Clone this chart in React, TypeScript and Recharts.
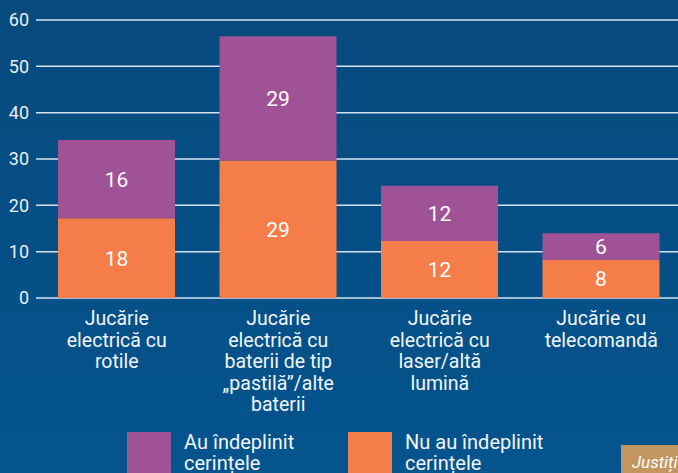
import React from 'react';
import { BarChart, Bar, XAxis, YAxis, CartesianGrid, LabelList } from 'recharts';

// category names, one entry per printed line
const categories: string[][] = [
    ['Jucărie', 'electrică cu', 'rotile'],
    ['Jucărie', 'electrică cu', 'baterii de tip', '„pastilă”/alte', 'baterii'],
    ['Jucărie', 'electrică cu', 'laser/altă', 'lumină'],
    ['Jucărie cu', 'telecomandă'],
];

// bar heights as drawn in the picture
const notCompliant = [17.2, 29.7, 12.3, 8.2];
const compliant = [16.9, 26.8, 11.9, 5.8];

// numbers printed on the bars
const notCompliantLabels = ['18', '29', '12', '8'];
const compliantLabels = ['16', '29', '12', '6'];

const yTicks = [0, 10, 20, 30, 40, 50, 60];

const legendNames = ['Au îndeplinit\ncerințele', 'Nu au îndeplinit\ncerințele'];

const PURPLE = '#9f5396';
const ORANGE = '#f47d4a';
const FONT = 'Roboto, sans-serif';

const data = categories.map((lines, i) => ({
    name: lines.join(' '),
    idx: i,
    nu: notCompliant[i],
    au: compliant[i],
    nuLabel: notCompliantLabels[i],
    auLabel: compliantLabels[i],
}));

const CategoryTick = (props: any) => {
    const { x, y, payload } = props;
    const lines = categories[payload.index] || [];
    return (
        <text x={x} y={y + 19} textAnchor="middle" fill="#f2f6fa" fontSize={19.5} fontFamily={FONT}>
            {lines.map((l, i) => (
                <tspan key={i} x={x} dy={i === 0 ? 0 : 21.5}>{l}</tspan>
            ))}
        </text>
    );
};

const App = () => {
    return (
        <div style={{
            position: 'absolute', left: 0, top: 0, width: 678, height: 473, overflow: 'hidden',
            background: 'linear-gradient(180deg, #074a7d 0%, #04548e 100%)', fontFamily: FONT,
        }}>
            <BarChart width={690} height={473} data={data} margin={{ top: 20, right: 8, left: 0, bottom: 0 }}>
                <CartesianGrid vertical={false} stroke="#d5e3ee" strokeWidth={1.5} />
                <XAxis
                    dataKey="name"
                    height={175}
                    axisLine={false}
                    tickLine={false}
                    interval={0}
                    tick={<CategoryTick />}
                />
                <YAxis
                    width={36}
                    domain={[0, 60]}
                    ticks={yTicks}
                    axisLine={false}
                    tickLine={false}
                    tickMargin={1}
                    tick={{ fill: '#e9eff6', fontSize: 18, fontFamily: FONT }}
                />
                <Bar dataKey="nu" stackId="a" fill={ORANGE} barSize={117} isAnimationActive={false}>
                    <LabelList dataKey="nuLabel" position="center" fill="#ffffff" fontSize={21} fontFamily={FONT} />
                </Bar>
                <Bar dataKey="au" stackId="a" fill={PURPLE} barSize={117} isAnimationActive={false}>
                    <LabelList dataKey="auLabel" position="center" fill="#ffffff" fontSize={21} fontFamily={FONT} />
                </Bar>
            </BarChart>

            {/* legend */}
            {[PURPLE, ORANGE].map((c, i) => (
                <div key={i} style={{ position: 'absolute', left: i === 0 ? 127 : 348, top: 432 }}>
                    <div style={{ position: 'absolute', left: 0, top: 0, width: 44, height: 50, background: c }} />
                    <div style={{
                        position: 'absolute', left: 57, top: 0, width: 200, color: '#f2f6fa',
                        fontSize: 20, lineHeight: '21px', whiteSpace: 'pre',
                    }}>{legendNames[i]}</div>
                </div>
            ))}

            <div style={{
                position: 'absolute', left: 621, top: 445, width: 80, height: 40, background: '#c4965f',
                color: '#ffffff', fontStyle: 'italic', fontSize: 17, lineHeight: '35px', paddingLeft: 11,
                boxSizing: 'border-box', whiteSpace: 'nowrap',
            }}>Justiție</div>
        </div>
    );
};

export default App;
